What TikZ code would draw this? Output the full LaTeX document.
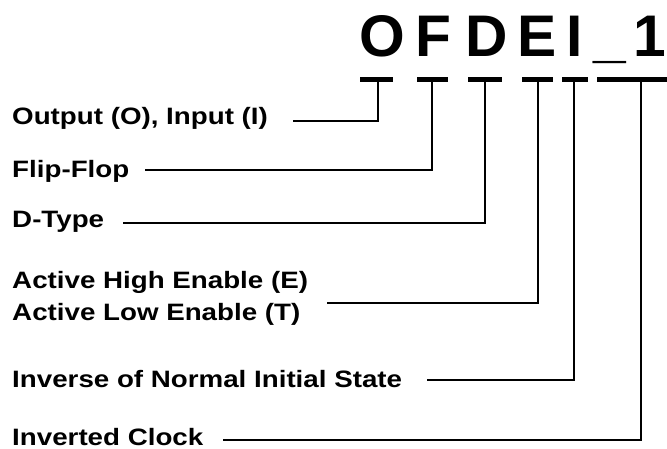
\documentclass[tikz,border=0pt]{standalone}
\usepackage{fontspec}
\setmainfont{Liberation Sans}
\begin{document}
\begin{tikzpicture}[x=1pt,y=-1pt,
  lbl/.style={anchor=base west,inner sep=0pt,font=\bfseries\fontsize{23.7}{28}\selectfont,xscale=1.17},
  big/.style={anchor=base west,inner sep=0pt,font=\bfseries\fontsize{58.7}{60}\selectfont},
  lead/.style={line width=2pt,line join=miter},
  tbar/.style={line width=5pt}]
\useasboundingbox (0,0) rectangle (667,449);
% code letters
\node[big] (code) at (359,57) {O\hspace{10.2pt}F\hspace{14.8pt}D\hspace{9.2pt}E\hspace{10.3pt}I\hspace{10.5pt}\_\hspace{7.4pt}1};
% bars
\coordinate (sO) at (378,80); \coordinate (sF) at (432,80); \coordinate (sD) at (485,80);
\coordinate (sE) at (538,80); \coordinate (sI) at (574,80); \coordinate (s1) at (641,80);
\draw[tbar] (360,80) -- (393,80);
\draw[tbar] (417,80) -- (448,80);
\draw[tbar] (468,80) -- (502,80);
\draw[tbar] (522,80) -- (553,80);
\draw[tbar] (562,80) -- (588,80);
\draw[tbar] (597,80) -- (667,80);
% labels
\node[lbl] (tO) at (12,125) {Output (O), Input (I)};
\node[lbl] (tF) at (12,178) {Flip-Flop};
\node[lbl] (tD) at (12,228) {D-Type};
\node[lbl] (tE1) at (12,289) {Active High Enable (E)};
\node[lbl] (tE2) at (12,320) {Active Low Enable (T)};
\node[lbl] (tI) at (12,387) {Inverse of Normal Initial State};
\node[lbl] (t1) at (12,445) {Inverted Clock};
% lead line starts
\coordinate (aO) at (293,121);
\coordinate (aF) at (145,170);
\coordinate (aD) at (123,223);
\coordinate (aE) at (327,303);
\coordinate (aI) at (427,380);
\coordinate (a1) at (223,440);
\draw[lead] (aO) -| (sO);
\draw[lead] (aF) -| (sF);
\draw[lead] (aD) -| (sD);
\draw[lead] (aE) -| (sE);
\draw[lead] (aI) -| (sI);
\draw[lead] (a1) -| (s1);
\end{tikzpicture}
\end{document}
